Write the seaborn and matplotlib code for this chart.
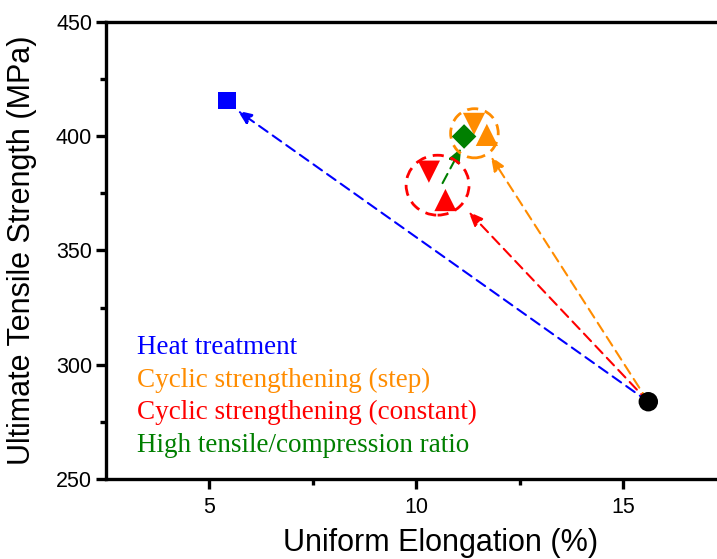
import matplotlib
matplotlib.use('Agg')
import matplotlib.pyplot as plt
from matplotlib.patches import Ellipse
import numpy as np
import pandas as pd
import seaborn as sns

# values
series = ['base', 'heat', 'step', 'step', 'constant', 'constant', 'ratio']
shapes = ['circle', 'square', 'down', 'up', 'down', 'up', 'diamond']
elongation = [15.6, 5.42, 11.39, 11.70, 10.30, 10.70, 11.15]
uts = [283.8, 415.5, 405.3, 400.5, 384.4, 372.0, 399.8]

# arrows: (start x, start y, end x, end y, series)
arrow_from_x = [15.6, 15.6, 15.6, 10.63]
arrow_from_y = [283.8, 283.8, 283.8, 379.4]
arrow_to_x = [5.68, 11.80, 11.26, 11.08]
arrow_to_y = [411.1, 391.0, 366.9, 394.7]
arrow_series = ['heat', 'step', 'constant', 'ratio']

labels = ['Heat treatment', 'Cyclic strengthening (step)',
          'Cyclic strengthening (constant)', 'High tensile/compression ratio']
label_series = ['heat', 'step', 'constant', 'ratio']
label_y = [307.5, 293.3, 279.3, 264.5]

colors = {'base': '#000000', 'heat': '#0000FF', 'step': '#FF8C00',
          'constant': '#FF0000', 'ratio': '#007F00'}
marker_map = {'circle': 'o', 'square': 's', 'down': 'v', 'up': '^', 'diamond': 'D'}
size_map = {'circle': 14**2, 'square': 12.5**2, 'down': 16**2, 'up': 16**2, 'diamond': 12.5**2}

df = pd.DataFrame({'elong': elongation, 'uts': uts, 'series': series, 'shape': shapes})

sns.set_style('ticks')
plt.rcParams['font.family'] = ['Liberation Sans', 'DejaVu Sans']
plt.rcParams.update({'text.color': 'black', 'axes.labelcolor': 'black',
                     'axes.edgecolor': 'black', 'xtick.color': 'black',
                     'ytick.color': 'black'})

fig = plt.figure(figsize=(7.17, 5.59), dpi=100)
ax = fig.add_axes([0.1478, 0.1431, 0.8661, 0.8181])

# dashed arrows
for x0, y0, x1, y1, s in zip(arrow_from_x, arrow_from_y, arrow_to_x, arrow_to_y, arrow_series):
    ax.annotate('', xy=(x1, y1), xytext=(x0, y0),
                arrowprops=dict(arrowstyle='-|>,head_length=0.85,head_width=0.35',
                                color=colors[s], lw=1.5, linestyle=(0, (5, 3)),
                                shrinkA=0, shrinkB=0), zorder=2)

# dashed groupings
ax.add_patch(Ellipse((11.4, 401.2), 1.15, 21.5, fill=False, ec=colors['step'],
                     lw=2.0, linestyle=(0, (4, 2.5)), zorder=3))
ax.add_patch(Ellipse((10.51, 378.5), 1.52, 26.2, fill=False, ec=colors['constant'],
                     lw=2.0, linestyle=(0, (4, 2.5)), zorder=3))

sns.scatterplot(data=df, x='elong', y='uts', hue='series', palette=colors,
                style='shape', markers=marker_map, size='shape', sizes=size_map,
                linewidth=0, legend=False, ax=ax, zorder=4)

for txt, s, yy in zip(labels, label_series, label_y):
    ax.text(3.26, yy, txt, color=colors[s], fontsize=19.5, va='center', ha='left',
            family=['Liberation Serif', 'DejaVu Serif'])

ax.set_xlim(2.5, 17.5)
ax.set_ylim(250, 450)
ax.set_xticks([5, 10, 15])
ax.set_xticks([7.5, 12.5], minor=True)
ax.set_yticks([250, 300, 350, 400, 450])
ax.set_yticks([275, 325, 375, 425], minor=True)

for sp in ax.spines.values():
    sp.set_linewidth(2.4)
    sp.set_visible(True)

ax.tick_params(which='major', direction='out', length=7, width=2.4, labelsize=15.5, pad=3)
ax.tick_params(which='minor', direction='out', length=4, width=2.4)
ax.tick_params(axis='x', which='major', pad=6)

ax2 = ax.twinx()
ax2.set_ylim(250, 450)
ax2.set_yticks([250, 300, 350, 400, 450])
ax2.tick_params(axis='y', direction='in', length=7, width=2.4, labelright=False)
ax2.grid(False)

ax.set_xlabel('Uniform Elongation (%)', fontsize=22)
ax.set_ylabel('Ultimate Tensile Strength (MPa)', fontsize=22)
ax.xaxis.set_label_coords(0.538, -0.108)
ax.yaxis.set_label_coords(-0.111, 0.5)

fig.savefig('out.png', dpi=100)
